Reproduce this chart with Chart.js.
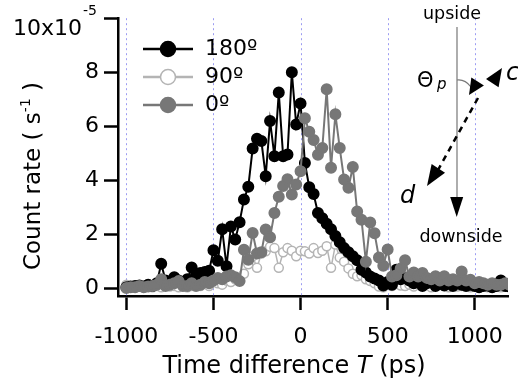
<!DOCTYPE html>
<html>
<head>
<meta charset="utf-8">
<script src="https://cdn.jsdelivr.net/npm/chart.js@4"></script>
<style>
  html, body { margin: 0; padding: 0; background: #fff; }
</style>
</head>
<body>
<canvas id="grafico" width="518" height="392"></canvas>
<script>
// diferença de tempo T (ps), passo de 25 ps
const tempos = [-1000, -975, -950, -925, -900, -875, -850, -825, -800, -775,
  -750, -725, -700, -675, -650, -625, -600, -575, -550, -525,
  -500, -475, -450, -425, -400, -375, -350, -325, -300, -275,
  -250, -225, -200, -175, -150, -125, -100, -75, -50, -25,
  0, 25, 50, 75, 100, 125, 150, 175, 200, 225,
  250, 275, 300, 325, 350, 375, 400, 425, 450, 475,
  500, 525, 550, 575, 600, 625, 650, 675, 700, 725,
  750, 775, 800, 825, 850, 875, 900, 925, 950, 975,
  1000, 1025, 1050, 1075, 1100, 1125, 1150, 1175, 1200];

// taxa de contagem em unidades de 1e-5 s^-1
const taxa180 = [0.05, 0.08, 0.1, 0.12, 0.08, 0.15, 0.1, 0.2, 0.92, 0.3,
  0.25, 0.42, 0.3, 0.2, 0.35, 0.78, 0.5, 0.58, 0.62, 0.66,
  1.42, 1.03, 2.2, 0.83, 2.3, 1.82, 2.46, 3.3, 3.77, 5.18,
  5.54, 5.46, 4.16, 6.2, 4.9, 7.25, 4.9, 4.96, 8.0, 6.07,
  6.85, 4.65, 3.75, 3.5, 2.8, 2.6, 2.4, 2.2, 1.95, 1.72,
  1.5, 1.35, 1.2, 1.05, 0.7, 0.6, 0.45, 0.38, 0.3, 0.12,
  0.25, 0.15, 0.7, 0.35, 0.4, 0.3, 0.2, 0.3, 0.1, 0.2,
  0.3, 0.1, 0.2, 0.12, 0.25, 0.1, 0.2, 0.15, 0.1, 0.15,
  0.1, 0.05, 0.1, 0.12, 0.05, 0.1, 0.3, 0.1, 0.08];

const taxa90 = [0.15, 0.1, 0.05, 0.1, 0.05, 0.1, 0.05, 0.1, 0.05, 0.1,
  0.08, 0.1, 0.05, 0.1, 0.05, 0.1, 0.15, 0.1, 0.2, 0.1,
  0.25, 0.2, 0.15, 0.3, 0.25, 0.35, 0.4, 0.55, 0.9, 1.2,
  0.77, 1.3, 1.38, 1.55, 1.5, 0.77, 1.35, 1.5, 1.4, 1.2,
  1.4, 1.38, 1.3, 1.5, 1.32, 1.4, 1.57, 0.77, 1.63, 1.15,
  1.0, 0.75, 0.55, 0.46, 0.5, 0.35, 0.28, 0.2, 0.08, 0.05,
  0.15, 0.1, 0.2, 0.12, 0.1, 0.15, 0.08, 0.2, 0.1, 0.15,
  0.05, 0.1, 0.2, 0.1, 0.05, 0.12, 0.08, 0.1, 0.15, 0.05,
  0.1, 0.08, 0.12, 0.05, 0.1, 0.08, 0.05, 0.1, 0.08];

const taxa0 = [0.03, 0.05, 0.05, 0.1, 0.05, 0.08, 0.1, 0.15, 0.35, 0.1,
  0.15, 0.2, 0.28, 0.1, 0.1, 0.2, 0.1, 0.15, 0.25, 0.2,
  0.3, 0.4, 0.35, 0.45, 0.5, 0.42, 0.28, 1.44, 1.07, 2.06,
  1.3, 1.35, 2.19, 1.9, 2.8, 3.4, 3.8, 4.05, 3.48, 3.85,
  4.34, 6.3, 5.8, 5.5, 4.95, 5.2, 7.37, 4.47, 6.45, 5.2,
  4.04, 3.73, 4.5, 2.85, 2.55, 1.0, 2.45, 2.05, 1.15, 0.85,
  1.45, 0.45, 0.5, 0.75, 1.05, 0.45, 0.6, 0.45, 0.58, 0.4,
  0.35, 0.46, 0.3, 0.46, 0.3, 0.35, 0.3, 0.64, 0.3, 0.33,
  0.2, 0.25, 0.2, 0.15, 0.2, 0.15, 0.15, 0.2, 0.15];

const xTicks = [-1000, -500, 0, 500, 1000];
const yTicks = [0, 2, 4, 6, 8, 10];

const FONTE = '"DejaVu Sans", sans-serif';

function pontos(serie) {
    return tempos.map((t, i) => ({ x: t, y: serie[i] }));
}

// linhas pontilhadas, legenda, títulos e o esquema da direita
const extras = {
    id: 'extras',
    beforeDatasetsDraw(chart) {
        const { ctx, chartArea, scales } = chart;
        ctx.save();
        ctx.strokeStyle = '#9c9cf2';
        ctx.lineWidth = 1;
        ctx.setLineDash([2, 3]);
        xTicks.forEach(v => {
            const px = Math.round(scales.x.getPixelForValue(v)) + 0.5;
            ctx.beginPath();
            ctx.moveTo(px, chartArea.top);
            ctx.lineTo(px, chartArea.bottom);
            ctx.stroke();
        });
        ctx.restore();
    },
    afterDraw(chart) {
        const { ctx } = chart;
        ctx.save();
        ctx.fillStyle = '#000';

        // 10x10^-5 no topo do eixo y
        ctx.textBaseline = 'alphabetic';
        ctx.textAlign = 'right';
        ctx.font = '14px ' + FONTE;
        const wExp = ctx.measureText('-5').width;
        ctx.fillText('-5', 97, 15);
        ctx.font = '22px ' + FONTE;
        ctx.fillText('10x10', 96 - wExp, 35);

        // título do eixo y (rotacionado)
        ctx.save();
        ctx.translate(40, 176);
        ctx.rotate(-Math.PI / 2);
        ctx.textAlign = 'left';
        const partesY = [
            { t: 'Count rate ( s', f: '23px ' + FONTE, dy: 0 },
            { t: '-1', f: '14px ' + FONTE, dy: -10 },
            { t: ' )', f: '23px ' + FONTE, dy: 0 }
        ];
        let total = 0;
        partesY.forEach(p => { ctx.font = p.f; total += ctx.measureText(p.t).width; });
        let cx = -total / 2;
        partesY.forEach(p => {
            ctx.font = p.f;
            ctx.fillText(p.t, cx, p.dy);
            cx += ctx.measureText(p.t).width;
        });
        ctx.restore();

        // título do eixo x com T em itálico
        const partesX = [
            { t: 'Time difference ', f: '24px ' + FONTE },
            { t: 'T', f: 'italic 24px ' + FONTE },
            { t: ' (ps)', f: '24px ' + FONTE }
        ];
        ctx.textAlign = 'left';
        total = 0;
        partesX.forEach(p => { ctx.font = p.f; total += ctx.measureText(p.t).width; });
        cx = 294 - total / 2;
        partesX.forEach(p => {
            ctx.font = p.f;
            ctx.fillText(p.t, cx, 373);
            cx += ctx.measureText(p.t).width;
        });

        // legenda dentro da área do gráfico
        const linhas = [49, 77, 105];
        const ordemLegenda = [1, 2, 0];
        ordemLegenda.forEach((idx, k) => {
            const ds = chart.data.datasets[idx];
            const y = linhas[k];
            ctx.strokeStyle = ds.borderColor;
            ctx.lineWidth = 2.5;
            ctx.setLineDash([]);
            ctx.beginPath();
            ctx.moveTo(143, y);
            ctx.lineTo(193, y);
            ctx.stroke();
            ctx.beginPath();
            ctx.arc(168, y, 7.5, 0, Math.PI * 2);
            ctx.fillStyle = ds.pointBackgroundColor;
            ctx.fill();
            ctx.lineWidth = 1.5;
            ctx.stroke();
            ctx.fillStyle = '#000';
            ctx.font = '22px ' + FONTE;
            ctx.textBaseline = 'middle';
            ctx.fillText(ds.label, 205, y);
        });

        // esquema upside / downside
        ctx.textBaseline = 'alphabetic';
        ctx.textAlign = 'center';
        ctx.font = '17.5px ' + FONTE;
        ctx.fillText('upside', 452, 19);
        ctx.fillText('downside', 461, 242);

        ctx.strokeStyle = '#777';
        ctx.lineWidth = 1.2;
        ctx.beginPath();
        ctx.moveTo(457, 27);
        ctx.lineTo(457, 200);
        ctx.stroke();
        ctx.beginPath();
        ctx.moveTo(457, 80);
        ctx.quadraticCurveTo(465, 79, 471, 87);
        ctx.stroke();

        function seta(tx, ty, dx, dy, comp, larg) {
            const bx = tx - dx * comp, by = ty - dy * comp;
            ctx.beginPath();
            ctx.moveTo(tx, ty);
            ctx.lineTo(bx - dy * larg, by + dx * larg);
            ctx.lineTo(bx + dy * larg, by - dx * larg);
            ctx.closePath();
            ctx.fill();
        }
        ctx.fillStyle = '#000';
        seta(456.7, 217, 0, 1, 20, 6.5);

        const ux = 0.54, uy = -0.84;
        ctx.strokeStyle = '#000';
        ctx.lineWidth = 2.5;
        ctx.setLineDash([6, 5]);
        ctx.beginPath();
        ctx.moveTo(478, 98);
        ctx.lineTo(438, 170);
        ctx.stroke();
        ctx.setLineDash([]);
        seta(502, 68, ux, uy, 18, 7.5);
        seta(469, 95, -ux, -uy, 16, 7.5);
        seta(427, 186, -ux, -uy, 21, 8);

        ctx.textAlign = 'left';
        ctx.font = 'italic 24px ' + FONTE;
        ctx.fillText('c', 506, 80);
        ctx.fillText('d', 400, 203);
        ctx.font = '21px ' + FONTE;
        ctx.fillText('\u0398', 417, 87);
        ctx.font = 'italic 15px ' + FONTE;
        ctx.fillText('p', 437, 89);

        ctx.restore();
    }
};

new Chart(document.getElementById('grafico'), {
    type: 'line',
    data: {
        datasets: [
            {
                label: '0º',
                data: pontos(taxa0),
                borderColor: '#777777',
                pointBackgroundColor: '#777777',
                pointBorderColor: '#777777',
                borderWidth: 2,
                pointRadius: 5,
                order: 0
            },
            {
                label: '180º',
                data: pontos(taxa180),
                borderColor: '#000000',
                pointBackgroundColor: '#000000',
                pointBorderColor: '#000000',
                borderWidth: 2,
                pointRadius: 5,
                order: 1
            },
            {
                label: '90º',
                data: pontos(taxa90),
                borderColor: '#b4b4b4',
                pointBackgroundColor: '#ffffff',
                pointBorderColor: '#b4b4b4',
                borderWidth: 1.5,
                pointBorderWidth: 1.5,
                pointRadius: 4.5,
                order: 2
            }
        ]
    },
    options: {
        responsive: false,
        animation: false,
        devicePixelRatio: 1,
        layout: { padding: { top: 18, right: 10, left: 0, bottom: 0 } },
        elements: { line: { tension: 0 } },
        plugins: { legend: { display: false }, tooltip: { enabled: false } },
        scales: {
            x: {
                type: 'linear',
                min: -1048,
                max: 1191,
                afterBuildTicks: s => { s.ticks = xTicks.map(v => ({ value: v })); },
                afterFit: s => { s.height = 96; },
                ticks: {
                    font: { family: FONTE, size: 22 },
                    color: '#000',
                    padding: 14,
                    maxRotation: 0,
                    autoSkip: false,
                    callback: v => String(v)
                },
                grid: { drawOnChartArea: false, tickLength: 14, tickWidth: 2.5, tickColor: '#000' },
                border: { color: '#000', width: 2.5 }
            },
            y: {
                min: -0.27,
                max: 10,
                afterBuildTicks: s => { s.ticks = yTicks.map(v => ({ value: v })); },
                afterFit: s => { s.width = 118; },
                ticks: {
                    font: { family: FONTE, size: 22 },
                    color: '#000',
                    padding: 5,
                    callback: v => (v === 10 ? '' : String(v))
                },
                grid: { drawOnChartArea: false, tickLength: 14, tickWidth: 2.5, tickColor: '#000' },
                border: { color: '#000', width: 2.5 }
            }
        }
    },
    plugins: [extras]
});
</script>
</body>
</html>
